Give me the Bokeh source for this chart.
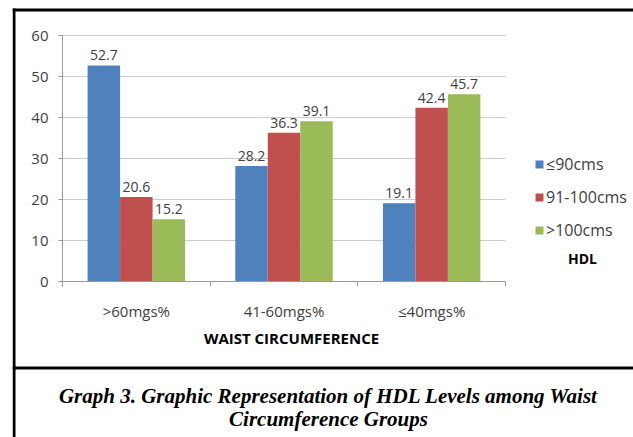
from bokeh.plotting import figure
from bokeh.models import (Range1d, LinearAxis, FixedTicker,
                          ColumnDataSource, Label, BoxAnnotation, Legend, LegendItem)
from bokeh.transform import dodge
from bokeh.core.properties import value
from bokeh.embed import file_html
from bokeh.resources import INLINE

# ---- data ----
categories = [">60mgs%", "41-60mgs%", "≤40mgs%"]
series_names = ["≤90cms", "91-100cms", ">100cms"]
le90 = [52.7, 28.2, 19.1]
s91_100 = [20.6, 36.3, 42.4]
gt100 = [15.2, 39.1, 45.7]
y_ticks = [0, 10, 20, 30, 40, 50, 60]
x_title = "WAIST CIRCUMFERENCE"
legend_title = "HDL"
caption_lines = ["Graph 3. Graphic Representation of HDL Levels among Waist",
                 "Circumference Groups"]

# ---- style / layout constants ----
colors = ["#4f81bd", "#c0504d", "#9bbb59"]
FONT = "Open Sans"
TXT = "#404040"
AXC = "#999999"
GRID = "#cccccc"
W, H = 633, 437
FL, FT = 12, 7                 # frame left / top (frame reaches right & bottom edges)
PX0, PX1 = 62, 505             # plot-area pixel extents (x)
PY0, PY1 = 281, 35             # plot-area pixel extents (y: value 0 / value max)

n = len(categories)
ymax = y_ticks[-1]
kx = (PX1 - PX0) / n
ky = (PY0 - PY1) / ymax
x_rng = Range1d((FL - PX0) / kx, (W - PX0) / kx)
y_rng = Range1d((PY0 - H) / ky, (PY0 - FT) / ky)

centers = [i + 0.5 for i in range(n)]
src = ColumnDataSource(dict(
    xc=centers,
    s0=le90, s1=s91_100, s2=gt100,
    t0=[f"{v:.1f}" for v in le90],
    t1=[f"{v:.1f}" for v in s91_100],
    t2=[f"{v:.1f}" for v in gt100],
))

p = figure(width=W, height=H, x_range=x_rng, y_range=y_rng,
           output_backend="svg", toolbar_location=None,
           x_axis_location=None, y_axis_location=None,
           min_border_left=FL, min_border_right=0, min_border_top=FT, min_border_bottom=0)
p.outline_line_color = None
p.xgrid.grid_line_color = None
p.ygrid.grid_line_color = None
p.background_fill_color = "white"
p.border_fill_color = "white"

# horizontal gridlines across the plot area
p.segment(x0=0, x1=n, y0=y_ticks[1:], y1=y_ticks[1:], line_color=GRID, line_width=1)

# y axis
yax = LinearAxis(fixed_location=0, bounds=(0, ymax), ticker=FixedTicker(ticks=y_ticks),
                 axis_line_color=AXC, major_tick_line_color=AXC, major_tick_in=0,
                 major_tick_out=4, minor_tick_line_color=None, major_label_standoff=10,
                 major_label_text_font=FONT, major_label_text_font_size="15px",
                 major_label_text_color=TXT)
p.add_layout(yax, "left")

# x axis line with group-separator ticks
sep_axis = LinearAxis(fixed_location=0, bounds=(0, n), ticker=FixedTicker(ticks=list(range(n + 1))),
                      major_label_text_color=None, major_label_text_font_size="1px",
                      major_tick_in=0, major_tick_out=5, minor_tick_line_color=None,
                      axis_line_color=AXC, major_tick_line_color=AXC)
p.add_layout(sep_axis, "below")
# category labels
cat_axis = LinearAxis(fixed_location=0, ticker=FixedTicker(ticks=centers),
                      major_label_overrides={c: lab for c, lab in zip(centers, categories)},
                      axis_line_color=None, major_tick_line_color=None,
                      minor_tick_line_color=None, major_tick_in=0, major_tick_out=0,
                      major_label_standoff=19, major_label_text_font=FONT,
                      major_label_text_font_size="15px", major_label_text_color=TXT)
p.add_layout(cat_axis, "below")

# bars and value labels
offsets = [-0.22, 0.0, 0.22]
bars = []
for i in range(3):
    r = p.vbar(x=dodge("xc", offsets[i]), top=f"s{i}", width=0.22,
               source=src, fill_color=colors[i], line_color=None)
    bars.append(r)
    p.text(x=dodge("xc", offsets[i]), y=f"s{i}", text=f"t{i}",
           source=src, text_align="center", text_baseline="alphabetic", y_offset=-10,
           text_font=value(FONT), text_font_size="14px", text_color=TXT)

legend = Legend(items=[LegendItem(label=series_names[i], renderers=[bars[i]]) for i in range(3)],
                location=(522, 196), orientation="vertical", padding=0, margin=0,
                spacing=11, glyph_width=10, glyph_height=10, label_height=20,
                label_standoff=2, border_line_color=None, background_fill_alpha=0,
                label_text_font=FONT, label_text_font_size="16px", label_text_color=TXT)
p.add_layout(legend)

def lab(x_img, y_img, text, font, style, size):
    p.add_layout(Label(x=x_img - FL, y=H - y_img, x_units="screen", y_units="screen",
                       text=text, text_align="center", text_baseline="middle",
                       text_font=font, text_font_style=style, text_font_size=size,
                       text_color="black"))

lab(582, 258, legend_title, FONT, "bold", "14px")
lab(291, 337, x_title, FONT, "bold", "15px")
for j, line in enumerate(caption_lines):
    lab(328, 395 + 23 * j, line, "Liberation Serif", "bold italic", "21px")

# box border lines (top, left, separator)
def hline(y0, y1, x0=12, x1=W):
    p.add_layout(BoxAnnotation(left=x0 - FL, right=x1 - FL, top=H - y0, bottom=H - y1,
                               left_units="screen", right_units="screen",
                               top_units="screen", bottom_units="screen",
                               fill_color="black", fill_alpha=1, line_color=None))

hline(8, 11)
hline(366, 369)
hline(8, H, 12, 15)

open("out.html", "w").write(file_html(p, INLINE))
